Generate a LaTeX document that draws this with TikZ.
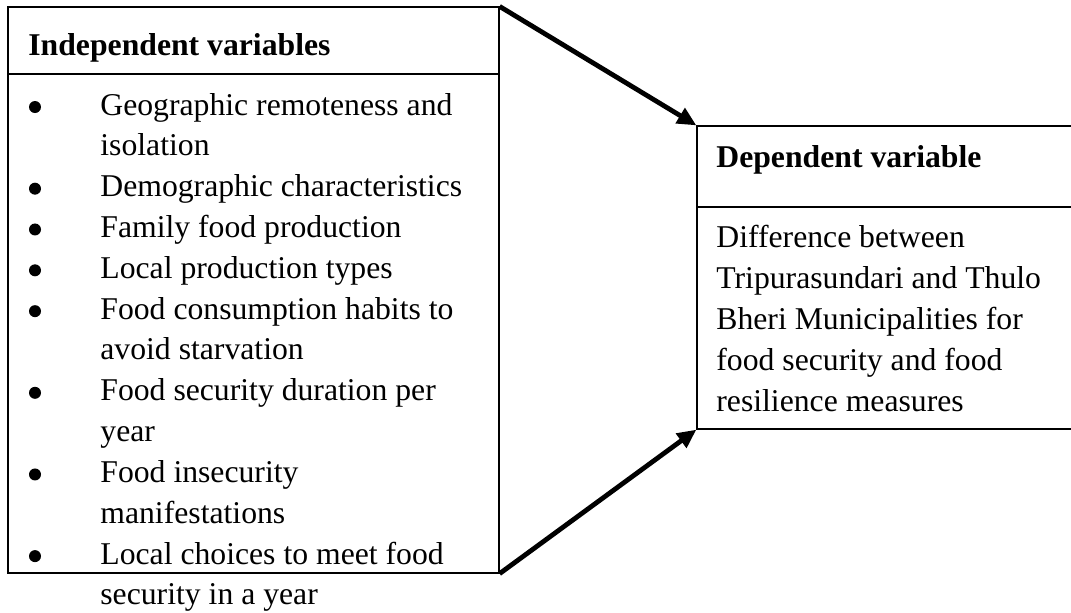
\documentclass[tikz,border=0pt]{standalone}
\usepackage{fontspec}
\setmainfont{Liberation Serif}
\usetikzlibrary{arrows.meta,fit}
\begin{document}
\begin{tikzpicture}[x=0.5pt,y=-0.5pt,
  box/.style={draw, line width=0.6pt, inner sep=0pt},
  rule/.style={line width=0.6pt},
  txt/.style={anchor=base west, inner sep=0pt, font=\fontsize{15.85}{19}\selectfont},
  hdr/.style={anchor=base west, inner sep=0pt, font=\fontsize{15.85}{19}\selectfont\bfseries},
  bulletdot/.style={circle, fill, inner sep=0pt, minimum size=6pt},
  link/.style={line width=2.4pt, -{Triangle[length=9.5pt,width=8.5pt]}}]
\clip (0,0) rectangle (1071,612);
% left box
\coordinate (L1) at (8,7);
\coordinate (L2) at (499,573);
\node[box, fit=(L1)(L2)] (indep) {};
\draw[rule] (8,74) -- (499,74);
\node[hdr] (ih) at (28,55) {Independent variables};
% items
\foreach \k/\b/\t in {0/1/Geographic remoteness and, 1/0/isolation, 2/1/Demographic characteristics, 3/1/Family food production, 4/1/Local production types, 5/1/Food consumption habits to, 6/0/avoid starvation, 7/1/Food security duration per, 8/0/year, 9/1/Food insecurity, 10/0/manifestations, 11/1/Local choices to meet food, 12/0/security in a year}{
  \pgfmathsetmacro{\yy}{115+40.83*\k}
  \pgfmathsetmacro{\by}{\yy-8}
  \node[txt] (item\k) at (100,\yy) {\t};
  \ifnum\b=1 \node[bulletdot] (bul\k) at (35,\by) {}; \fi
}
% right box
\coordinate (R1) at (697,126);
\coordinate (R2) at (1080,429);
\node[box, fit=(R1)(R2)] (dep) {};
\draw[rule] (697,207) -- (1080,207);
\node[hdr] (dh) at (716,167) {Dependent variable};
\node[txt] (d1) at (716,247) {Difference between};
\node[txt] (d2) at (716,288) {Tripurasundari and Thulo};
\node[txt] (d3) at (716,329) {Bheri Municipalities for};
\node[txt] (d4) at (716,370) {food security and food};
\node[txt] (d5) at (716,411) {resilience measures};
% connectors
\draw[link] (indep.north east) -- (dep.north west);
\draw[link] (indep.south east) -- (dep.south west);
\end{tikzpicture}
\end{document}
